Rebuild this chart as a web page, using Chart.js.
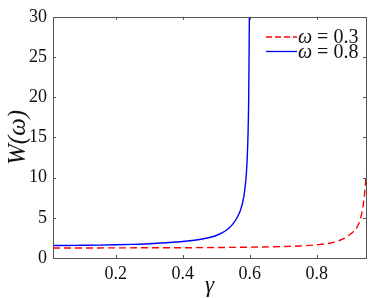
<!DOCTYPE html>
<html>
<head>
<meta charset="utf-8">
<script src="https://cdn.jsdelivr.net/npm/chart.js@4.4.1/dist/chart.umd.min.js"></script>
<style>
  html, body { margin: 0; padding: 0; background: #fff; }
  #wrap { width: 374px; height: 298px; }
</style>
</head>
<body>
<div id="wrap"><canvas id="chart" width="374" height="298"></canvas></div>
<script>
// ─── Data ─────────────────────────────────────────────────────────────────
const gammaLow  = [0.013, 0.05, 0.1, 0.15, 0.2, 0.25, 0.3, 0.35, 0.4, 0.45, 0.48, 0.5, 0.52, 0.53, 0.54, 0.55, 0.56, 0.57, 0.575, 0.58, 0.585, 0.59, 0.594, 0.597, 0.599];
const wOmega08  = [1.55, 1.56, 1.58, 1.6, 1.64, 1.7, 1.78, 1.9, 2.05, 2.3, 2.55, 2.8, 3.2, 3.45, 3.8, 4.25, 4.85, 5.7, 6.3, 7.1, 8.4, 10.5, 14, 20, 30];

const gammaHigh = [0.013, 0.1, 0.2, 0.3, 0.4, 0.5, 0.6, 0.7, 0.75, 0.8, 0.85, 0.88, 0.9, 0.91, 0.92, 0.93, 0.935, 0.94, 0.945, 0.947];
const wOmega03  = [1.25, 1.25, 1.26, 1.27, 1.28, 1.3, 1.35, 1.42, 1.5, 1.64, 1.95, 2.4, 2.95, 3.3, 3.8, 4.8, 5.7, 7.0, 9.0, 10.4];

const xTicks = [0.2, 0.4, 0.6, 0.8];
const yTicks = [0, 5, 10, 15, 20, 25, 30];
const seriesLabels = ['0.3', '0.8'];

const SERIF = '"Liberation Serif", "DejaVu Serif", serif';
const RED = '#ff0000';
const BLUE = '#0000ff';
const AXIS = '#555555';

const toPoints = (xs, ys) => xs.map((x, i) => ({ x, y: ys[i] }));

// ─── Box with inward ticks on all four sides ──────────────────────────────
const boxTicks = {
    id: 'boxTicks',
    afterDatasetsDraw(chart) {
        const { ctx, chartArea: a, scales: { x, y } } = chart;
        const len = 3;
        ctx.save();
        ctx.strokeStyle = AXIS;
        ctx.lineWidth = 1;
        ctx.beginPath();
        xTicks.forEach(v => {
            const px = Math.round(x.getPixelForValue(v)) + 0.5;
            ctx.moveTo(px, a.bottom); ctx.lineTo(px, a.bottom - len);
            ctx.moveTo(px, a.top);    ctx.lineTo(px, a.top + len);
        });
        yTicks.forEach(v => {
            const py = Math.round(y.getPixelForValue(v)) + 0.5;
            ctx.moveTo(a.left, py);  ctx.lineTo(a.left + len, py);
            ctx.moveTo(a.right, py); ctx.lineTo(a.right - len, py);
        });
        ctx.stroke();
        ctx.strokeRect(Math.round(a.left) + 0.5, Math.round(a.top) + 0.5,
                       Math.round(a.right - a.left), Math.round(a.bottom - a.top));
        ctx.restore();
    }
};

// ─── Legend inside the top right corner ───────────────────────────────────
const cornerLegend = {
    id: 'cornerLegend',
    afterDraw(chart) {
        const { ctx } = chart;
        const rows = [
            { label: seriesLabels[0], color: RED,  dash: [6, 3], y: 37 },
            { label: seriesLabels[1], color: BLUE, dash: [],     y: 51.5 }
        ];
        ctx.save();
        rows.forEach(r => {
            ctx.strokeStyle = r.color;
            ctx.lineWidth = 1.3;
            ctx.setLineDash(r.dash);
            ctx.beginPath();
            ctx.moveTo(266, r.y);
            ctx.lineTo(297, r.y);
            ctx.stroke();
            ctx.setLineDash([]);

            ctx.fillStyle = '#111';
            ctx.textBaseline = 'alphabetic';
            ctx.font = 'italic 20px ' + SERIF;
            ctx.fillText('ω', 298, r.y + 6);
            const w = ctx.measureText('ω').width;
            ctx.font = '20px ' + SERIF;
            ctx.fillText(' = ' + r.label, 298 + w, r.y + 6);
        });
        ctx.restore();
    }
};

new Chart(document.getElementById('chart'), {
    type: 'line',
    data: {
        datasets: [
            {
                label: 'ω = ' + seriesLabels[0],
                data: toPoints(gammaHigh, wOmega03),
                borderColor: RED,
                borderWidth: 1.4,
                borderDash: [7, 4],
                pointRadius: 0,
                cubicInterpolationMode: 'monotone'
            },
            {
                label: 'ω = ' + seriesLabels[1],
                data: toPoints(gammaLow, wOmega08),
                borderColor: BLUE,
                borderWidth: 1.4,
                pointRadius: 0,
                cubicInterpolationMode: 'monotone'
            }
        ]
    },
    options: {
        responsive: false,
        animation: false,
        devicePixelRatio: 1,
        layout: { padding: { top: 13, right: 8, left: 0, bottom: 0 } },
        plugins: { legend: { display: false }, tooltip: { enabled: false } },
        scales: {
            x: {
                type: 'linear',
                min: 0.013,
                max: 0.947,
                afterFit: s => { s.height = 40; },
                afterBuildTicks: s => { s.ticks = xTicks.map(v => ({ value: v })); },
                grid: { display: false, drawTicks: false },
                border: { display: false },
                ticks: {
                    padding: 5,
                    color: '#111',
                    font: { family: SERIF, size: 18 },
                    maxRotation: 0,
                    callback: v => v.toFixed(1)
                },
                title: {
                    display: true,
                    text: 'γ',
                    color: '#111',
                    padding: { top: 0, bottom: -2 },
                    font: { family: SERIF, size: 23, style: 'italic' }
                }
            },
            y: {
                min: 0,
                max: 30,
                afterFit: s => { s.width = 53; },
                afterBuildTicks: s => { s.ticks = yTicks.map(v => ({ value: v })); },
                grid: { display: false, drawTicks: false },
                border: { display: false },
                ticks: {
                    padding: 6,
                    color: '#111',
                    font: { family: SERIF, size: 18 }
                },
                title: {
                    display: true,
                    text: 'W(ω)',
                    color: '#111',
                    padding: { top: 3, bottom: 0 },
                    font: { family: SERIF, size: 25, style: 'italic' }
                }
            }
        }
    },
    plugins: [boxTicks, cornerLegend]
});
</script>
</body>
</html>
